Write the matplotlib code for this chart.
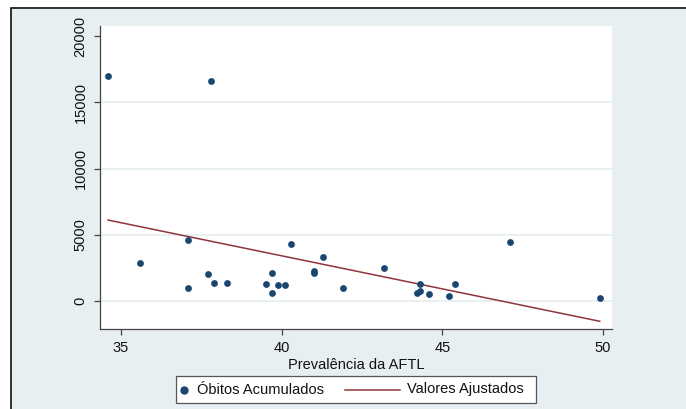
import matplotlib
matplotlib.use("Agg")
import matplotlib.pyplot as plt
from matplotlib.patches import Rectangle
from matplotlib.lines import Line2D

plt.rcParams['font.family'] = ['Liberation Sans', 'DejaVu Sans']

# Data
prevalencia = [34.6, 37.8, 35.6, 37.1, 37.1, 37.7, 37.9, 38.3, 39.5, 39.7, 39.7,
               39.9, 40.1, 40.3, 41.0, 41.0, 41.3, 41.9, 43.2, 44.3, 44.2, 44.3,
               44.6, 45.2, 45.4, 47.1, 49.9]
obitos = [16950, 16620, 2870, 4600, 1000, 2060, 1330, 1330, 1260, 2130, 600,
          1180, 1180, 4280, 2250, 2120, 3320, 1000, 2510, 1280, 600, 780,
          530, 380, 1300, 4450, 230]
fit_x = [34.6, 49.9]
fit_y = [6110, -1530]

xticks = [35, 40, 45, 50]
yticks = [0, 5000, 10000, 15000, 20000]
grid_vals = [0, 5000, 10000, 15000]

W, H = 686, 409
fig = plt.figure(figsize=(W / 100, H / 100), dpi=100, facecolor='white')

def fx(px):
    return px / W

def fy(py):
    return 1 - py / H

bg = '#e8eff2'
# outer background frame
fig.add_artist(Rectangle((fx(10.5), fy(409 + 5)), fx(686 + 5 - 10.5), (409 + 5 - 8.5) / H,
                         transform=fig.transFigure, facecolor=bg, edgecolor='#111111',
                         linewidth=1.2, zorder=0))

ax = fig.add_axes([fx(100), fy(329), fx(612 - 100), (329 - 26) / H])
ax.set_facecolor('white')
ax.set_xlim(34.35, 50.28)
ax.set_ylim(-2112, 20754)

for g in grid_vals:
    ax.axhline(g, color='#e3ecef', linewidth=1.1, zorder=1)

ax.scatter(prevalencia, obitos, s=24, color='#1a476f', zorder=3, linewidths=0)
ax.plot(fit_x, fit_y, color='#90353b', linewidth=1.1, zorder=2)

ax.set_xticks(xticks)
ax.set_yticks(yticks)
ax.set_xticklabels([str(t) for t in xticks])
ax.set_yticklabels([str(t) for t in yticks])
for s in ['top', 'right']:
    ax.spines[s].set_visible(False)
for s in ['left', 'bottom']:
    ax.spines[s].set_color('#444444')
    ax.spines[s].set_linewidth(0.9)
ax.tick_params(axis='both', direction='out', length=4, width=0.9, color='#444444',
               labelsize=10.5, labelcolor='#111111', pad=5)
plt.setp(ax.get_yticklabels(), rotation=90, va='center')

ax.set_xlabel('Prevalência da AFTL', fontsize=10.5, color='#111111', labelpad=2)

# legend
fig.add_artist(Rectangle((fx(176), fy(403)), fx(536 - 176), (403 - 376) / H,
                         transform=fig.transFigure, facecolor='white', edgecolor='#555555',
                         linewidth=0.9, zorder=2))
ly = fy(389.5)
fig.add_artist(Line2D([fx(184)], [ly], marker='o', markersize=5, color='#1a476f',
                      linestyle='none', transform=fig.transFigure, zorder=3))
fig.text(fx(197), ly, 'Óbitos Acumulados', fontsize=10.5, va='center', ha='left',
         color='#111111', zorder=3)
fig.add_artist(Line2D([fx(345), fx(400)], [ly, ly], color='#90353b', linewidth=1.1,
                      transform=fig.transFigure, zorder=3))
fig.text(fx(407), ly, 'Valores Ajustados', fontsize=10.5, va='center', ha='left',
         color='#111111', zorder=3)

fig.savefig('out.png', dpi=100, facecolor='white')
